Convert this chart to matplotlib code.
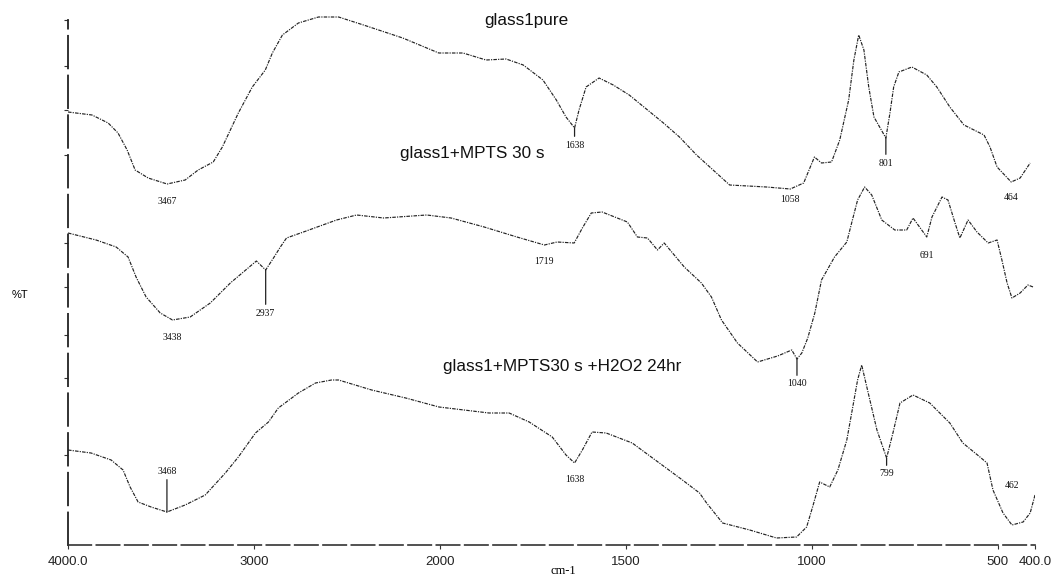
"""Stacked FTIR spectra of glass1 before/after MPTS and H2O2 treatment."""

import matplotlib
matplotlib.use("Agg")
import matplotlib.pyplot as plt
import numpy as np

# --- data (wavenumber cm-1, offset %T) ---
pure_wn = [4000, 3871, 3784, 3731, 3682, 3639, 3569, 3467, 3370, 3300, 3219, 3170,
           3084, 3009, 2939, 2901, 2847, 2761, 2653, 2545, 2411, 2200, 2006, 1938,
           1876, 1822, 1776, 1723, 1687, 1661, 1638, 1626, 1607, 1572, 1534, 1491,
           1399, 1356, 1310, 1221, 1122, 1058, 1022, 993, 974, 947, 925, 901, 887,
           874, 860, 847, 833, 801, 790, 780, 766, 731, 691, 664, 629, 591, 537,
           521, 502, 464, 440, 413]
pure_t = [86.6, 86.0, 84.4, 82.4, 79.0, 75.0, 73.4, 72.2, 73.0, 75.0, 76.6, 79.6,
          86.4, 91.6, 95.0, 98.4, 102.0, 104.4, 105.6, 105.6, 104.0, 101.4, 98.4, 98.4,
          97.0, 97.2, 96.0, 93.0, 89.0, 85.6, 83.4, 87.0, 91.6, 93.4, 92.0, 90.0,
          84.4, 81.6, 78.0, 72.0, 71.6, 71.2, 72.4, 77.6, 76.4, 76.6, 81.0, 89.0, 97.0,
          102.0, 99.0, 91.6, 85.6, 81.4, 86.4, 91.6, 94.6, 95.6, 94.0, 91.6, 87.6, 84.0, 82.0,
          79.6, 75.6, 72.6, 73.4, 76.4]

mpts_wn = [4000, 3849, 3741, 3677, 3634, 3580, 3504, 3438, 3343, 3235, 3127, 3057,
           2987, 2937, 2895, 2858, 2825, 2734, 2556, 2448, 2303, 2071, 1970, 1881,
           1793, 1719, 1685, 1639, 1617, 1593, 1564, 1496, 1469, 1442, 1415, 1397,
           1370, 1343, 1297, 1270, 1243, 1200, 1146, 1092, 1054, 1040, 1027, 1011,
           992, 974, 939, 906, 893, 877, 858, 839, 812, 777, 745, 728, 691, 677,
           650, 634, 615, 602, 580, 556, 526, 502, 489, 475, 462, 440, 419, 405]
mpts_t = [62.4, 61.0, 59.6, 57.6, 53.6, 49.6, 46.4, 45.0, 45.6, 48.4, 52.4, 54.6,
          56.8, 55.0, 57.4, 59.6, 61.4, 62.6, 65.0, 66.0, 65.4, 66.0, 65.4, 63.6,
          61.6, 60.0, 60.6, 60.4, 63.4, 66.4, 66.6, 64.6, 61.6, 61.4, 59.0, 60.4,
          58.0, 55.6, 52.4, 49.6, 45.0, 40.4, 36.6, 37.8, 39.0, 37.2, 38.4, 41.4,
          46.4, 53.0, 57.6, 60.6, 64.4, 69.0, 71.6, 70.0, 65.0, 63.0, 63.0, 65.4, 61.6, 65.6,
          69.6, 69.0, 64.4, 61.4, 65.0, 62.6, 60.4, 61.0, 57.0, 52.4, 49.4, 50.4, 52.0, 51.6]

h2o2_wn = [4000, 3876, 3768, 3704, 3666, 3623, 3553, 3468, 3370, 3262, 3154, 3084,
           2992, 2922, 2869, 2761, 2669, 2583, 2545, 2367, 2184, 2005, 1868, 1814,
           1760, 1698, 1661, 1638, 1617, 1591, 1553, 1483, 1410, 1348, 1302, 1283,
           1240, 1167, 1095, 1041, 1014, 998, 979, 952, 930, 906, 890, 877, 866,
           844, 825, 799, 782, 763, 728, 683, 629, 594, 548, 529, 513, 486, 462,
           432, 413, 400]
h2o2_t = [19.0, 18.4, 17.0, 15.0, 11.6, 8.6, 7.6, 6.6, 8.0, 10.0, 14.4, 17.6,
          22.4, 24.6, 27.4, 30.4, 32.4, 33.0, 33.0, 31.0, 29.4, 27.6, 26.4, 26.4,
          24.6, 21.6, 18.0, 16.4, 19.0, 22.6, 22.4, 20.4, 16.4, 13.0, 10.4, 8.4,
          4.4, 3.0, 1.4, 1.6, 3.6, 7.6, 12.6, 11.6, 15.0, 21.0, 27.6, 33.0, 36.0,
          29.0, 23.0, 17.4, 22.4, 28.4, 30.0, 28.4, 24.4, 20.4, 17.6, 16.4, 11.0, 6.4, 4.0,
          4.6, 6.4, 10.0]

pure_peaks = [3467, 1638, 1058, 801, 464]
mpts_peaks = [3438, 2937, 1719, 1040, 691]
h2o2_peaks = [3468, 1638, 799, 462]

trace_names = ["glass1pure", "glass1+MPTS 30 s", "glass1+MPTS30 s +H2O2 24hr"]

xtick_vals = [4000, 3000, 2000, 1500, 1000, 500, 400]
xtick_labels = ["4000.0", "3000", "2000", "1500", "1000", "500", "400.0"]


def fwd(x):
    # spectrometer doubles the scale below 2000 cm-1
    x = np.asarray(x, dtype=float)
    return np.where(x >= 2000, x, 2 * x - 2000)


def inv(u):
    u = np.asarray(u, dtype=float)
    return np.where(u >= 2000, u, (u + 2000) / 2)


def main() -> None:
    fig = plt.figure(figsize=(10.55, 5.75), dpi=100)
    ax = fig.add_axes([68 / 1055, 1 - 545 / 575, (1035 - 68) / 1055, 535 / 575])

    ax.set_xscale("function", functions=(fwd, inv))
    ax.set_xlim(4000, 400)
    ax.set_ylim(0, 107)

    line_kw = dict(color="#222222", lw=0.85, linestyle=(0, (3, 1, 1, 1)))

    # label offset (pixels) and whether a small marker line is drawn
    pure_lab = [(-18, False), (-17, True), (-11, False), (-25, True), (-15, False)]
    mpts_lab = [(-17, False), (-43, True), (-17, False), (-25, True), (-19, False)]
    h2o2_lab = [(41, True), (-17, False), (-16, True), (40, False)]

    traces = [
        (pure_wn, pure_t, pure_peaks, pure_lab),
        (mpts_wn, mpts_t, mpts_peaks, mpts_lab),
        (h2o2_wn, h2o2_t, h2o2_peaks, h2o2_lab),
    ]
    for wn, t, peaks, labs in traces:
        ax.plot(wn, t, **line_kw)
        for p, (dy, tick) in zip(peaks, labs):
            yp = np.interp(p, wn[::-1], t[::-1])
            arrow = dict(arrowstyle="-", lw=0.9, color="#222222",
                         shrinkA=1, shrinkB=0) if tick else None
            ax.annotate(str(p), (p, yp), xytext=(0, dy), textcoords="offset pixels",
                        ha="center", va="center", fontsize=7,
                        family="Liberation Serif", color="#111111",
                        arrowprops=arrow)

    # axes styled like the instrument print-out
    for s in ("top", "right"):
        ax.spines[s].set_visible(False)
    ax.spines["left"].set_bounds(0, 105)
    ax.spines["left"].set_linestyle((0, (18, 4)))
    ax.spines["left"].set_linewidth(1.3)
    ax.spines["bottom"].set_linestyle((0, (14, 3)))
    ax.spines["bottom"].set_linewidth(1.2)
    ax.spines["left"].set_color("#222222")
    ax.spines["bottom"].set_color("#333333")

    ax.set_xticks(xtick_vals)
    ax.set_xticklabels(xtick_labels, fontsize=9.5, family="Liberation Sans", color="#222222")
    ax.xaxis.set_minor_locator(matplotlib.ticker.NullLocator())
    ax.tick_params(axis="x", length=3, width=0.8, pad=5, color="#333333")
    ax.set_yticks([105, 95.8, 87, 78, 60.4, 51.6, 42, 33.4, 18])
    ax.set_yticklabels([])
    ax.tick_params(axis="y", length=3, width=0.8, color="#333333")

    name_pos = [(526, 20), (472, 153), (562, 367)]
    for name, (px, py) in zip(trace_names, name_pos):
        fig.text(px / 1055, 1 - py / 575, name, ha="center", va="center",
                 fontsize=12.3, family="Liberation Sans", color="#111111")

    fig.text(20 / 1055, 1 - 295 / 575, "%T", ha="center", va="center",
             fontsize=8, family="Liberation Sans")
    fig.text(563 / 1055, 1 - 571 / 575, "cm-1", ha="center", va="center",
             fontsize=9, family="Liberation Serif")

    fig.savefig("out.png", dpi=100)


if __name__ == "__main__":
    main()
